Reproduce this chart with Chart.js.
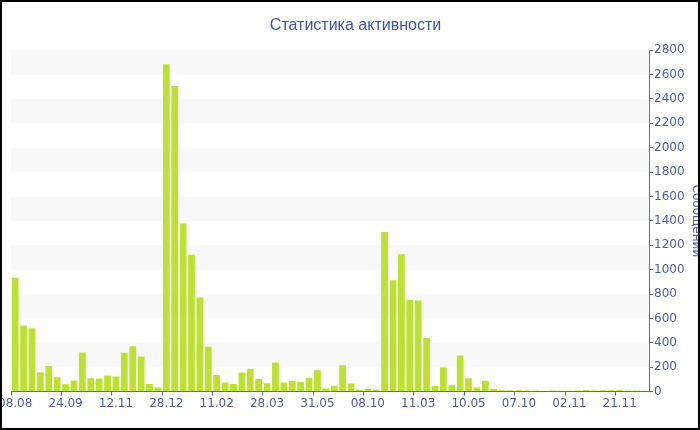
<!DOCTYPE html>
<html>
<head>
<meta charset="utf-8">
<script src="https://cdn.jsdelivr.net/npm/chart.js@4"></script>
<style>
    html, body { margin: 0; padding: 0; background: #fff; }
    #wrap { width: 700px; height: 430px; box-sizing: border-box; border: 2px solid #000; background: #fff; }
</style>
</head>
<body>
<div id="wrap"><canvas id="activity-chart"></canvas></div>
<script>
// weekly message counts, one bar per week
const counts = [
    933, 543, 519, 159, 209, 118, 60, 91, 321, 110, 107, 132, 124, 318, 371, 288, 63, 33,
    2685, 2506, 1378, 1123, 772, 368, 137, 74, 63, 156, 187, 104, 69, 239, 74, 88, 80, 113,
    176, 25, 47, 217, 66, 16, 22, 16, 1309, 914, 1126, 752, 747, 439, 49, 198, 55, 296,
    110, 33, 88, 22, 11, 11, 11, 8, 8, 6, 8, 7, 6, 8, 14, 10, 12, 12, 14, 10, 9, 6
];
// labels shown every 6th bar
const tickLabels = ['08.08', '24.09', '12.11', '28.12', '11.02', '28.03', '31.05', '08.10', '11.03', '10.05', '07.10', '02.11', '21.11'];
const LABEL_EVERY = 6;
const labels = counts.map((_, i) => i % LABEL_EVERY === 0 ? (tickLabels[i / LABEL_EVERY] || '') : '');

const BAR = '#bde132';
const BLUE = '#4b5fa3';
const AXIS = '#5a6dab';
const BAND = '#f8f8f8';
const FONT = 'DejaVu Sans';

// alternating horizontal stripes behind the bars
const bands = {
    id: 'bands',
    beforeDatasetsDraw(chart) {
        const { ctx, chartArea: a, scales: { y } } = chart;
        ctx.save();
        ctx.fillStyle = BAND;
        for (let v = 200; v < y.max; v += 400) {
            const top = y.getPixelForValue(Math.min(v + 200, y.max));
            const bot = y.getPixelForValue(v);
            ctx.fillRect(a.left, top, a.right - a.left, bot - top);
        }
        ctx.restore();
    }
};

new Chart(document.getElementById('activity-chart'), {
    type: 'bar',
    data: {
        labels,
        datasets: [{ data: counts, backgroundColor: BAR, borderWidth: 0, barPercentage: 0.8, categoryPercentage: 1 }]
    },
    options: {
        responsive: true, maintainAspectRatio: false, animation: false,
        layout: { padding: { left: 9, right: -2, top: 0, bottom: 16 } },
        plugins: {
            legend: { display: false },
            tooltip: { enabled: false },
            title: {
                display: true, text: 'Статистика активности', color: '#3f57a2',
                font: { family: 'Liberation Sans', size: 16, weight: 'normal' },
                padding: { top: 14, bottom: 15 }
            }
        },
        scales: {
            x: {
                afterFit: s => { s.paddingLeft = 0; s.paddingRight = 0; },
                grid: {
                    drawOnChartArea: false, tickLength: 4,
                    tickColor: c => c.index % LABEL_EVERY === 0 ? AXIS : 'transparent'
                },
                border: { color: AXIS, width: 1 },
                ticks: { color: BLUE, autoSkip: false, maxRotation: 0, padding: 1, font: { family: FONT, size: 12 } }
            },
            y: {
                position: 'right', min: 0, max: 2800,
                grid: {
                    drawOnChartArea: false, tickLength: 4,
                    tickColor: c => c.tick && c.tick.value % 200 === 0 ? AXIS : '#b8bed6'
                },
                border: { color: AXIS, width: 1 },
                ticks: {
                    stepSize: 100, color: BLUE, padding: 1, font: { family: FONT, size: 12 },
                    callback: v => v % 200 === 0 ? v : ''
                },
                title: {
                    display: true, text: 'Сообщений', color: BLUE,
                    font: { family: FONT, size: 12 }, padding: { top: -3, bottom: 3 }
                }
            }
        }
    },
    plugins: [bands]
});
</script>
</body>
</html>
